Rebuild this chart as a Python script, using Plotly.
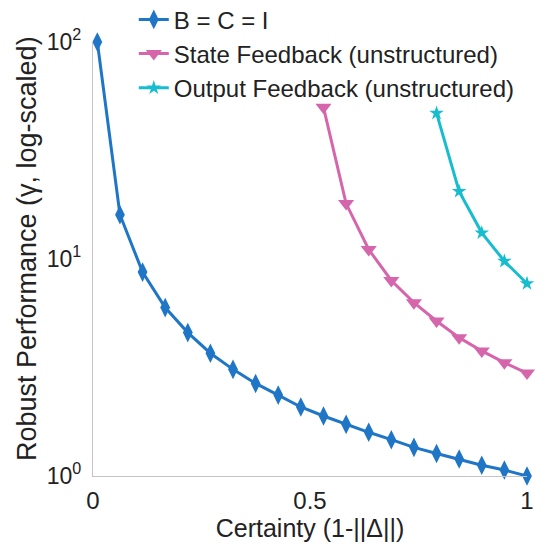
import plotly.graph_objects as go

certainty = [0.01, 0.0621, 0.1142, 0.1663, 0.2184, 0.2705, 0.3226, 0.3747, 0.4268, 0.4789,
             0.5311, 0.5832, 0.6353, 0.6874, 0.7395, 0.7916, 0.8437, 0.8958, 0.9479, 1.0]
gamma_bci = [100, 16.0, 8.7, 5.97, 4.58, 3.68, 3.10, 2.67, 2.36, 2.08,
             1.89, 1.73, 1.59, 1.47, 1.355, 1.27, 1.197, 1.12, 1.066, 1.0]
gamma_state = [50, 18.0, 11.06, 7.96, 6.29, 5.18, 4.34, 3.77, 3.33, 2.98]
gamma_output = [47, 20.5, 13.2, 9.77, 7.71]

names = ["B = C = I", "State Feedback (unstructured)", "Output Feedback (unstructured)"]
colors = ["#1f76c6", "#d666ac", "#17bdcf"]

font_family = "Liberation Sans, Arial, Helvetica, sans-serif"

fig = go.Figure()
fig.add_trace(go.Scatter(x=certainty, y=gamma_bci, name=names[0], mode="lines+markers",
                         line=dict(color=colors[0], width=3),
                         marker=dict(symbol="diamond-tall", size=14, color=colors[0]),
                         cliponaxis=False))
fig.add_trace(go.Scatter(x=certainty[10:], y=gamma_state, name=names[1], mode="lines+markers",
                         line=dict(color=colors[1], width=3),
                         marker=dict(symbol="triangle-down", size=14, color=colors[1]),
                         cliponaxis=False))
fig.add_trace(go.Scatter(x=certainty[15:], y=gamma_output, name=names[2], mode="lines+markers",
                         line=dict(color=colors[2], width=3),
                         marker=dict(symbol="star", size=11, color=colors[2]),
                         cliponaxis=False))

# page body adds an 8px offset; the figure is sized so that it still fits the window
fig.update_layout(
    width=549, height=544,
    margin=dict(l=85, r=30, t=34, b=76, autoexpand=False),
    paper_bgcolor="white", plot_bgcolor="white",
    font=dict(family=font_family, size=24, color="#222222"),
    showlegend=True,
    legend=dict(x=0.094, y=1.103, xanchor="left", yanchor="top",
                bgcolor="rgba(0,0,0,0)", font=dict(size=24),
                tracegroupgap=0, itemwidth=30),
    annotations=[dict(text="Robust Performance (γ, log-scaled)", textangle=-90,
                      xref="paper", yref="paper", x=-0.152, y=0.523,
                      xanchor="center", yanchor="middle", showarrow=False,
                      font=dict(size=27, color="#222222"))],
)
fig.update_xaxes(range=[0, 1], tickvals=[0, 0.5, 1], ticktext=["0", "0.5", "1"],
                 showline=True, linecolor="#c4c4c4", linewidth=1.2, showgrid=False,
                 zeroline=False, ticks="outside", ticklen=3, tickcolor="rgba(0,0,0,0)",
                 tickfont=dict(size=24),
                 title=dict(text="Certainty (1-||Δ||)", font=dict(size=25), standoff=4))
fig.update_yaxes(type="log", range=[0, 2], tickvals=[1, 10, 100],
                 ticktext=["10<sup>0</sup>", "10<sup>1</sup>", "10<sup>2</sup>"],
                 showline=True, linecolor="#c4c4c4", linewidth=1.2, showgrid=False,
                 zeroline=False, ticks="outside", ticklen=6, tickcolor="rgba(0,0,0,0)",
                 tickfont=dict(size=23))

fig.write_html("out.html")
